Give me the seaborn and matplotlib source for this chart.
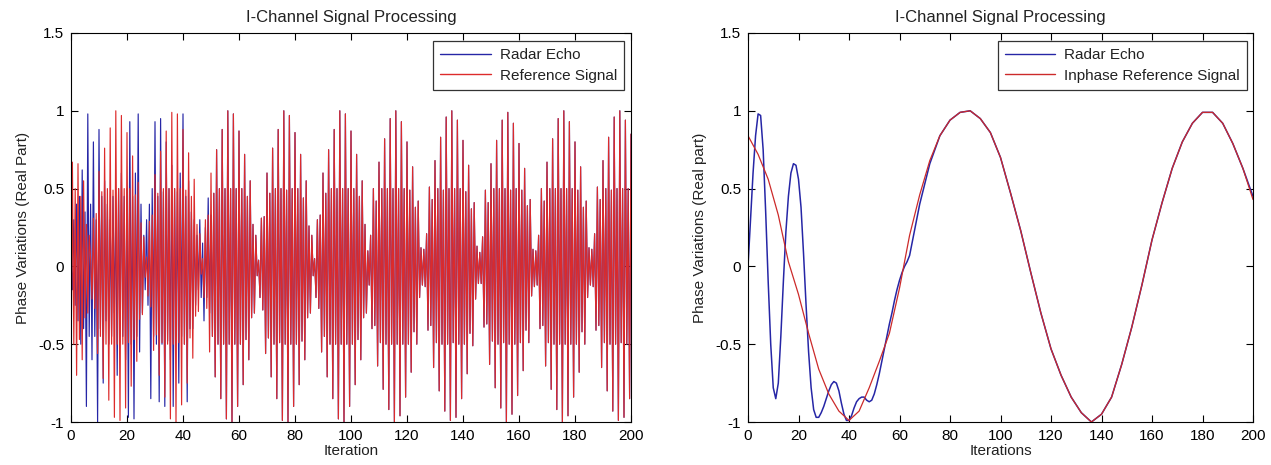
import matplotlib
matplotlib.use("Agg")
import matplotlib.pyplot as plt
import seaborn as sns
import pandas as pd
import numpy as np
from matplotlib.ticker import FixedLocator, FixedFormatter

# ---------------- data: left panel (two samples per iteration) ----------------
iterations = np.arange(0, 200.5, 0.5)

reference_signal = [
    -0.78, 0.67, -0.50, 0.50, -0.70, 0.66, -0.47, 0.45, -0.60, 0.55, -0.33, 0.27, -0.30, 0.20,
    # lobe 7 - 27
    0.05, -0.21, 0.31, -0.27, 0.34, -0.56, 0.61, -0.45, 0.48, -0.72, 0.76, -0.50, 0.50, -0.86, 0.89, -0.50, 0.49, -0.97, 1.00, -0.50,
    0.50, -0.99, 0.97, -0.50, 0.50, -0.91, 0.86, -0.49, 0.50, -0.77, 0.71, -0.47, 0.46, -0.61, 0.54, -0.34, 0.28, -0.31, 0.19, -0.07,
    # lobe 27 - 47
    0.06, -0.19, 0.29, -0.26, 0.33, -0.54, 0.59, -0.44, 0.47, -0.70, 0.74, -0.49, 0.50, -0.84, 0.87, -0.50, 0.50, -0.98, 0.99, -0.50,
    0.50, -1.00, 0.98, -0.49, 0.50, -0.89, 0.88, -0.50, 0.49, -0.75, 0.73, -0.46, 0.45, -0.59, 0.56, -0.32, 0.27, -0.29, 0.21, -0.05,
    # lobe 47 - 67
    0.05, -0.20, 0.30, -0.27, 0.33, -0.55, 0.60, -0.45, 0.47, -0.71, 0.75, -0.50, 0.50, -0.85, 0.88, -0.50, 0.50, -0.98, 1.00, -0.50,
    0.50, -1.00, 0.98, -0.50, 0.50, -0.90, 0.87, -0.50, 0.50, -0.76, 0.72, -0.47, 0.45, -0.60, 0.55, -0.33, 0.27, -0.30, 0.20, -0.06,
    # lobe 67 - 87
    0.04, -0.20, 0.31, -0.28, 0.32, -0.56, 0.60, -0.46, 0.47, -0.71, 0.76, -0.50, 0.50, -0.85, 0.88, -0.49, 0.50, -0.99, 1.00, -0.50,
    0.49, -1.00, 0.97, -0.50, 0.50, -0.90, 0.86, -0.50, 0.50, -0.76, 0.72, -0.48, 0.44, -0.60, 0.55, -0.33, 0.26, -0.30, 0.20, -0.06,
    # lobe 87 - 106
    0.05, -0.20, 0.30, -0.27, 0.33, -0.55, 0.60, -0.45, 0.47, -0.71, 0.75, -0.50, 0.50, -0.85, 0.88, -0.50, 0.50, -0.98, 1.00, -0.50,
    0.50, -1.00, 0.98, -0.50, 0.50, -0.90, 0.87, -0.50, 0.50, -0.76, 0.72, -0.47, 0.45, -0.60, 0.55, -0.33, 0.27, -0.30,
    # lobe 106 - 126
    0.10, -0.12, 0.20, -0.40, 0.50, -0.38, 0.42, -0.64, 0.67, -0.49, 0.50, -0.79, 0.82, -0.50, 0.50, -0.92, 0.95, -0.50, 0.50, -1.00,
    1.00, -0.50, 0.50, -0.96, 0.93, -0.50, 0.50, -0.84, 0.80, -0.50, 0.49, -0.68, 0.64, -0.42, 0.38, -0.50, 0.42, -0.20, 0.12, -0.12,
    # lobe 126 - 146
    0.11, -0.13, 0.21, -0.41, 0.51, -0.38, 0.43, -0.65, 0.68, -0.49, 0.50, -0.80, 0.83, -0.50, 0.49, -0.93, 0.96, -0.50, 0.50, -0.99,
    1.00, -0.49, 0.50, -0.97, 0.94, -0.50, 0.50, -0.85, 0.81, -0.50, 0.48, -0.69, 0.65, -0.43, 0.37, -0.51, 0.41, -0.21, 0.13, -0.11,
    # lobe 146 - 166
    0.09, -0.11, 0.19, -0.39, 0.49, -0.37, 0.41, -0.63, 0.66, -0.48, 0.50, -0.78, 0.81, -0.50, 0.50, -0.91, 0.94, -0.49, 0.50, -1.00,
    0.99, -0.50, 0.49, -0.95, 0.92, -0.50, 0.50, -0.83, 0.79, -0.49, 0.49, -0.67, 0.63, -0.41, 0.39, -0.49, 0.43, -0.19, 0.11, -0.13,
    # lobe 166 - 186
    0.10, -0.12, 0.20, -0.40, 0.50, -0.38, 0.42, -0.64, 0.67, -0.49, 0.50, -0.79, 0.82, -0.50, 0.50, -0.92, 0.95, -0.50, 0.50, -1.00,
    1.00, -0.50, 0.50, -0.96, 0.93, -0.50, 0.50, -0.84, 0.80, -0.50, 0.49, -0.68, 0.64, -0.42, 0.38, -0.50, 0.42, -0.20, 0.12, -0.12,
    # lobe 186 - 200
    0.11, -0.13, 0.21, -0.41, 0.51, -0.38, 0.43, -0.65, 0.68, -0.49, 0.50, -0.80, 0.83, -0.50, 0.49, -0.93, 0.96, -0.50, 0.50, -0.99,
    1.00, -0.49, 0.50, -0.97, 0.94, -0.50, 0.50, -0.85, 0.85,
]

# radar echo differs from the reference only during the first ~50 iterations
radar_echo_head = [
    0.02, -0.15, 0.30, -0.25, 0.40, -0.35, 0.45, -0.50, 0.62, -0.40,
    0.35, -0.90, 0.98, -0.45, 0.40, -0.60, 0.80, -0.45, 0.30, -1.00,
    0.88, -0.40, 0.45, -0.75, 0.55, -0.35, 0.40, -0.50, 0.30, -0.45,
    0.45, -0.30, 0.35, -0.70, 0.50, -0.40, 0.60, -0.45, 0.45, -0.60,
    0.50, -0.97, 0.93, -0.50, 0.45, -0.98, 0.60, -0.45, 0.98, -0.55,
    0.40, -0.30, 0.20, -0.15, 0.30, -0.25, 0.40, -0.85, 0.50, -0.45,
    0.93, -0.50, 0.45, -0.87, 0.95, -0.50, 0.48, -0.90, 0.80, -0.48,
    0.50, -0.60, 0.65, -0.90, 0.50, -0.45, 0.48, -0.75, 0.60, -0.45,
    0.98, -0.50, 0.45, -0.87, 0.55, -0.40, 0.35, -0.40, 0.30, -0.25,
    0.20, -0.15, 0.30, -0.20, 0.15, -0.35, 0.25, -0.20, 0.44, -0.30,
    0.33,
]
radar_echo = radar_echo_head + reference_signal[len(radar_echo_head):]
assert len(reference_signal) == len(iterations) == len(radar_echo)

# ---------------- data: right panel ----------------
iter_ref_right = list(range(0, 201, 4))
inphase_reference = [
    0.84, 0.72, 0.56, 0.33, 0.03, -0.18, -0.43, -0.66, -0.82, -0.93,
    -0.99, -0.93, -0.78, -0.61, -0.43, -0.14, 0.20, 0.46, 0.68, 0.84,
    0.94, 0.99, 1.00, 0.95, 0.86, 0.70, 0.47, 0.23, -0.04, -0.30,
    -0.53, -0.70, -0.84, -0.94, -1.00, -0.95, -0.84, -0.63, -0.39, -0.12,
    0.17, 0.41, 0.63, 0.80, 0.92, 0.99, 0.99, 0.92, 0.79, 0.63,
    0.43,
]

iter_echo_right = list(range(0, 65)) + list(range(68, 201, 4))
radar_echo_right = [
    0.00, 0.30, 0.60, 0.84, 0.98, 0.97, 0.75, 0.35, -0.10, -0.50,
    -0.78, -0.85, -0.75, -0.45, -0.10, 0.22, 0.45, 0.60, 0.66, 0.65,
    0.56, 0.38, 0.08, -0.25, -0.55, -0.78, -0.92, -0.97, -0.97, -0.94,
    -0.90, -0.85, -0.80, -0.76, -0.74, -0.75, -0.80, -0.88, -0.95, -0.99,
    -0.99, -0.96, -0.91, -0.87, -0.85, -0.84, -0.84, -0.86, -0.87, -0.86,
    -0.82, -0.76, -0.69, -0.61, -0.53, -0.45, -0.37, -0.30, -0.22, -0.15,
    -0.09, -0.04, 0.00, 0.03, 0.07,
    0.40, 0.66, 0.84, 0.94, 0.99, 1.00, 0.95, 0.86, 0.70, 0.47,
    0.23, -0.04, -0.30, -0.53, -0.70, -0.84, -0.94, -1.00, -0.95, -0.84,
    -0.63, -0.39, -0.12, 0.17, 0.41, 0.63, 0.80, 0.92, 0.99, 0.99,
    0.92, 0.79, 0.63, 0.45,
]

x_ticks = [0, 20, 40, 60, 80, 100, 120, 140, 160, 180, 200]
y_ticks = [-1, -0.5, 0, 0.5, 1, 1.5]
y_tick_labels = ["-1", "-0.5", "0", "0.5", "1", "1.5"]

# ---------------- style ----------------
sns.set_theme(style="white")
plt.rcParams["font.family"] = ["Liberation Sans", "DejaVu Sans"]
plt.rcParams["axes.edgecolor"] = "black"
plt.rcParams["axes.linewidth"] = 0.8

W, H = 1271, 465
fig = plt.figure(figsize=(W / 100, H / 100), dpi=100)
fig.patch.set_facecolor("white")

BLUE = "#2626a6"
RED_L = "#dd2b2b"
RED_R = "#cc2a2a"
FS = 11


def frame(ax, xlabel, ylabel):
    ax.set_xlim(0, 200)
    ax.set_ylim(-1, 1.5)
    ax.xaxis.set_major_locator(FixedLocator(x_ticks))
    ax.yaxis.set_major_locator(FixedLocator(y_ticks))
    ax.yaxis.set_major_formatter(FixedFormatter(y_tick_labels))
    ax.tick_params(direction="in", length=5, width=0.8, top=True, right=True,
                   bottom=True, left=True, labelsize=FS, colors="black", pad=5)
    for s in ax.spines.values():
        s.set_visible(True)
        s.set_color("black")
        s.set_linewidth(0.8)
    ax.set_title("I-Channel Signal Processing", fontsize=12, color="#222222", pad=8)
    ax.set_xlabel(xlabel, fontsize=FS, color="#222222", labelpad=1)
    ax.set_ylabel(ylabel, fontsize=FS, color="#222222", labelpad=6)
    ax.grid(False)


def legend(ax):
    leg = ax.legend(loc="upper right", bbox_to_anchor=(1 - 7 / 560, 1 - 8 / 389),
                    borderaxespad=0, frameon=True, fancybox=False, fontsize=FS,
                    handlelength=3.3, labelspacing=0.45, borderpad=0.45,
                    handletextpad=0.6)
    leg.get_frame().set_edgecolor("#333333")
    leg.get_frame().set_linewidth(0.9)
    leg.get_frame().set_alpha(1.0)
    for t in leg.get_texts():
        t.set_color("#222222")
    for h in leg.get_lines():
        h.set_linewidth(1.0)


# ---------------- left panel ----------------
ax1 = fig.add_axes([71 / W, 1 - 422 / H, (631 - 71) / W, (422 - 33) / H])
df_left = pd.DataFrame({"Iteration": iterations, "echo": radar_echo, "ref": reference_signal})
sns.lineplot(data=df_left, x="Iteration", y="echo", ax=ax1, color=BLUE, lw=0.85,
             label="Radar Echo", estimator=None, sort=False)
sns.lineplot(data=df_left, x="Iteration", y="ref", ax=ax1, color=RED_L, lw=0.85,
             label="Reference Signal", estimator=None, sort=False)
frame(ax1, "Iteration", "Phase Variations (Real Part)")
legend(ax1)

# ---------------- right panel ----------------
ax2 = fig.add_axes([748 / W, 1 - 422 / H, (1253 - 748) / W, (422 - 33) / H])
df_echo = pd.DataFrame({"Iterations": iter_echo_right, "v": radar_echo_right})
df_ref = pd.DataFrame({"Iterations": iter_ref_right, "v": inphase_reference})
sns.lineplot(data=df_echo, x="Iterations", y="v", ax=ax2, color=BLUE, lw=1.1,
             label="Radar Echo", estimator=None, sort=False)
sns.lineplot(data=df_ref, x="Iterations", y="v", ax=ax2, color=RED_R, lw=0.9,
             label="Inphase Reference Signal", estimator=None, sort=False)
frame(ax2, "Iterations", "Phase Variations (Real part)")
legend(ax2)

fig.savefig("out.png", dpi=100, facecolor="white")
